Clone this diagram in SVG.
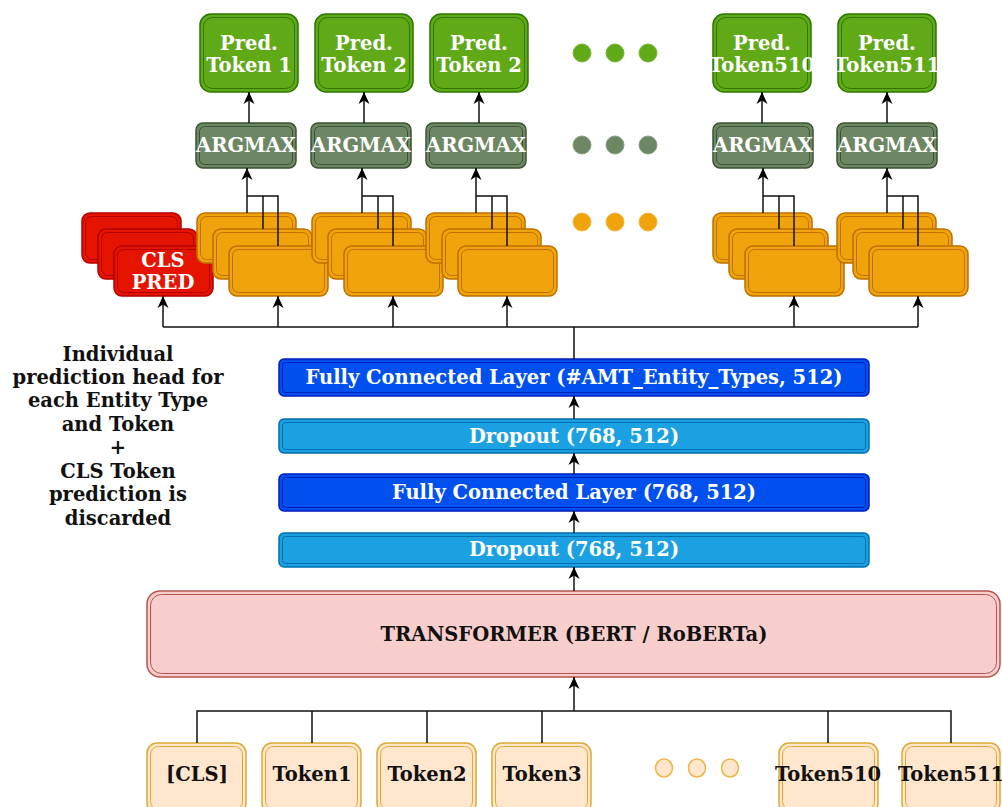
<svg xmlns="http://www.w3.org/2000/svg" width="1002" height="807" viewBox="0 0 1002 807">
<defs>
<marker id="arr" markerUnits="userSpaceOnUse" markerWidth="14" markerHeight="12" refX="12" refY="6" orient="auto">
<path d="M0,0.5 L12,6 L0,11.5 L3.5,6 Z" fill="#000"/>
</marker>
<style>
text{font-family:'DejaVu Serif','Liberation Serif',serif;font-weight:bold;font-size:19.5px;text-anchor:middle}
.w{fill:#fff}
.k{fill:#111}
.pred{fill:#60a917;stroke:#2d7600;stroke-width:1.5}
.predi{fill:none;stroke:#2d7600;stroke-width:1}
.arg{fill:#6d8764;stroke:#3a5431;stroke-width:1.5}
.argi{fill:none;stroke:#3a5431;stroke-width:1}
.or{fill:#f0a30a;stroke:#bd7000;stroke-width:1.5}
.ori{fill:none;stroke:#bd7000;stroke-width:1}
.red{fill:#e51400;stroke:#b20000;stroke-width:1.5}
.redi{fill:none;stroke:#b20000;stroke-width:1}
.fc{fill:#0050ef;stroke:#001dbc;stroke-width:1.5}
.fci{fill:none;stroke:#001dbc;stroke-width:1}
.dr{fill:#1ba1e2;stroke:#006eaf;stroke-width:1.5}
.dri{fill:none;stroke:#006eaf;stroke-width:1}
.tr{fill:#f8cecc;stroke:#b85450;stroke-width:1.5}
.tri{fill:none;stroke:#b85450;stroke-width:1}
.tk{fill:#ffe6cc;stroke:#dcaa33;stroke-width:1.5}
.tki{fill:none;stroke:#dcaa33;stroke-width:1}
.ln{fill:none;stroke:#111;stroke-width:1.5}
.ar{fill:none;stroke:#111;stroke-width:1.5;marker-end:url(#arr)}
</style>
</defs>

<!-- Pred tokens -->
<g id="pred1"><rect class="pred" x="200" y="14" width="98" height="78" rx="11"/><rect class="predi" x="203.5" y="17.5" width="91" height="71" rx="9"/><text class="w" x="249" y="50">Pred.</text><text class="w" x="249" y="72">Token 1</text></g>
<g id="pred2"><rect class="pred" x="315" y="14" width="98" height="78" rx="11"/><rect class="predi" x="318.5" y="17.5" width="91" height="71" rx="9"/><text class="w" x="364" y="50">Pred.</text><text class="w" x="364" y="72">Token 2</text></g>
<g id="pred3"><rect class="pred" x="430" y="14" width="98" height="78" rx="11"/><rect class="predi" x="433.5" y="17.5" width="91" height="71" rx="9"/><text class="w" x="479" y="50">Pred.</text><text class="w" x="479" y="72">Token 2</text></g>
<g id="pred510"><rect class="pred" x="713" y="14" width="98" height="78" rx="11"/><rect class="predi" x="716.5" y="17.5" width="91" height="71" rx="9"/><text class="w" x="762" y="50">Pred.</text><text class="w" x="762" y="72">Token510</text></g>
<g id="pred511"><rect class="pred" x="838" y="14" width="98" height="78" rx="11"/><rect class="predi" x="841.5" y="17.5" width="91" height="71" rx="9"/><text class="w" x="887" y="50">Pred.</text><text class="w" x="887" y="72">Token511</text></g>
<g id="dots-green"><circle cx="582" cy="53" r="9" fill="#60a917" stroke="#74b83a"/><circle cx="615" cy="53" r="9" fill="#60a917" stroke="#74b83a"/><circle cx="648" cy="53" r="9" fill="#60a917" stroke="#74b83a"/></g>

<!-- ARGMAX -->
<g id="arg1"><rect class="arg" x="196" y="123" width="100" height="45" rx="7"/><rect class="argi" x="199.5" y="126.5" width="93" height="38" rx="5"/><text class="w" x="246" y="152">ARGMAX</text></g>
<g id="arg2"><rect class="arg" x="311" y="123" width="100" height="45" rx="7"/><rect class="argi" x="314.5" y="126.5" width="93" height="38" rx="5"/><text class="w" x="361" y="152">ARGMAX</text></g>
<g id="arg3"><rect class="arg" x="426" y="123" width="100" height="45" rx="7"/><rect class="argi" x="429.5" y="126.5" width="93" height="38" rx="5"/><text class="w" x="476" y="152">ARGMAX</text></g>
<g id="arg510"><rect class="arg" x="713" y="123" width="100" height="45" rx="7"/><rect class="argi" x="716.5" y="126.5" width="93" height="38" rx="5"/><text class="w" x="763" y="152">ARGMAX</text></g>
<g id="arg511"><rect class="arg" x="837" y="123" width="100" height="45" rx="7"/><rect class="argi" x="840.5" y="126.5" width="93" height="38" rx="5"/><text class="w" x="887" y="152">ARGMAX</text></g>
<g id="dots-gray"><circle cx="582" cy="145" r="9" fill="#6d8764" stroke="#889e80"/><circle cx="615" cy="145" r="9" fill="#6d8764" stroke="#889e80"/><circle cx="648" cy="145" r="9" fill="#6d8764" stroke="#889e80"/></g>

<!-- CLS PRED stack -->
<g id="clspred">
<rect class="red" x="82" y="213" width="99" height="50" rx="8"/><rect class="redi" x="85.5" y="216.5" width="92" height="43" rx="6"/>
<rect class="red" x="98" y="229" width="99" height="50" rx="8"/><rect class="redi" x="101.5" y="232.5" width="92" height="43" rx="6"/>
<rect class="red" x="114" y="246" width="99" height="50" rx="8"/><rect class="redi" x="117.5" y="249.5" width="92" height="43" rx="6"/>
<text class="w" x="163" y="267">CLS</text><text class="w" x="163" y="289">PRED</text>
</g>

<!-- Orange heads -->
<g id="head1">
<rect class="or" x="197" y="213" width="99" height="50" rx="8"/><rect class="ori" x="200.5" y="216.5" width="92" height="43" rx="6"/>
<rect class="or" x="213" y="229" width="99" height="50" rx="8"/><rect class="ori" x="216.5" y="232.5" width="92" height="43" rx="6"/>
<rect class="or" x="229" y="246" width="99" height="50" rx="8"/><rect class="ori" x="232.5" y="249.5" width="92" height="43" rx="6"/>
</g>
<g id="head2">
<rect class="or" x="312" y="213" width="99" height="50" rx="8"/><rect class="ori" x="315.5" y="216.5" width="92" height="43" rx="6"/>
<rect class="or" x="328" y="229" width="99" height="50" rx="8"/><rect class="ori" x="331.5" y="232.5" width="92" height="43" rx="6"/>
<rect class="or" x="344" y="246" width="99" height="50" rx="8"/><rect class="ori" x="347.5" y="249.5" width="92" height="43" rx="6"/>
</g>
<g id="head3">
<rect class="or" x="426" y="213" width="99" height="50" rx="8"/><rect class="ori" x="429.5" y="216.5" width="92" height="43" rx="6"/>
<rect class="or" x="442" y="229" width="99" height="50" rx="8"/><rect class="ori" x="445.5" y="232.5" width="92" height="43" rx="6"/>
<rect class="or" x="458" y="246" width="99" height="50" rx="8"/><rect class="ori" x="461.5" y="249.5" width="92" height="43" rx="6"/>
</g>
<g id="head510">
<rect class="or" x="713" y="213" width="99" height="50" rx="8"/><rect class="ori" x="716.5" y="216.5" width="92" height="43" rx="6"/>
<rect class="or" x="729" y="229" width="99" height="50" rx="8"/><rect class="ori" x="732.5" y="232.5" width="92" height="43" rx="6"/>
<rect class="or" x="745" y="246" width="99" height="50" rx="8"/><rect class="ori" x="748.5" y="249.5" width="92" height="43" rx="6"/>
</g>
<g id="head511">
<rect class="or" x="837" y="213" width="99" height="50" rx="8"/><rect class="ori" x="840.5" y="216.5" width="92" height="43" rx="6"/>
<rect class="or" x="853" y="229" width="99" height="50" rx="8"/><rect class="ori" x="856.5" y="232.5" width="92" height="43" rx="6"/>
<rect class="or" x="869" y="246" width="99" height="50" rx="8"/><rect class="ori" x="872.5" y="249.5" width="92" height="43" rx="6"/>
</g>
<g id="dots-orange"><circle cx="582" cy="222" r="9" fill="#f0a30a" stroke="#f2b540"/><circle cx="615" cy="222" r="9" fill="#f0a30a" stroke="#f2b540"/><circle cx="648" cy="222" r="9" fill="#f0a30a" stroke="#f2b540"/></g>

<!-- Layers -->
<g id="fc2"><rect class="fc" x="279" y="359" width="590" height="37" rx="5"/><rect class="fci" x="282.5" y="362.5" width="583" height="30" rx="3"/><text class="w" x="574" y="384">Fully Connected Layer (#AMT_Entity_Types, 512)</text></g>
<g id="drop2"><rect class="dr" x="279" y="419" width="590" height="34" rx="5"/><rect class="dri" x="282.5" y="422.5" width="583" height="27" rx="3"/><text class="w" x="574" y="443">Dropout (768, 512)</text></g>
<g id="fc1"><rect class="fc" x="279" y="474" width="590" height="37" rx="5"/><rect class="fci" x="282.5" y="477.5" width="583" height="30" rx="3"/><text class="w" x="574" y="499">Fully Connected Layer (768, 512)</text></g>
<g id="drop1"><rect class="dr" x="279" y="533" width="590" height="34" rx="5"/><rect class="dri" x="282.5" y="536.5" width="583" height="27" rx="3"/><text class="w" x="574" y="556">Dropout (768, 512)</text></g>

<g id="transformer"><rect class="tr" x="147" y="591" width="853" height="86" rx="13"/><rect class="tri" x="150.5" y="594.5" width="846" height="79" rx="11"/><text class="k" x="574" y="641">TRANSFORMER (BERT / RoBERTa)</text></g>

<!-- Input tokens -->
<g id="tcls"><rect class="tk" x="147" y="743" width="99" height="70" rx="10"/><rect class="tki" x="150.5" y="746.5" width="92" height="63" rx="8"/><text class="k" x="197" y="781">[CLS]</text></g>
<g id="t1"><rect class="tk" x="262" y="743" width="99" height="70" rx="10"/><rect class="tki" x="265.5" y="746.5" width="92" height="63" rx="8"/><text class="k" x="312" y="781">Token1</text></g>
<g id="t2"><rect class="tk" x="377" y="743" width="99" height="70" rx="10"/><rect class="tki" x="380.5" y="746.5" width="92" height="63" rx="8"/><text class="k" x="427" y="781">Token2</text></g>
<g id="t3"><rect class="tk" x="492" y="743" width="99" height="70" rx="10"/><rect class="tki" x="495.5" y="746.5" width="92" height="63" rx="8"/><text class="k" x="542" y="781">Token3</text></g>
<g id="t510"><rect class="tk" x="779" y="743" width="99" height="70" rx="10"/><rect class="tki" x="782.5" y="746.5" width="92" height="63" rx="8"/><text class="k" x="828" y="781">Token510</text></g>
<g id="t511"><rect class="tk" x="902" y="743" width="98" height="70" rx="10"/><rect class="tki" x="905.5" y="746.5" width="91" height="63" rx="8"/><text class="k" x="951" y="781">Token511</text></g>
<g id="dots-input"><ellipse cx="664" cy="768" rx="8.5" ry="9" fill="#ffe6cc" stroke="#e6b84a" stroke-width="1.5"/><ellipse cx="697" cy="768" rx="8.5" ry="9" fill="#ffe6cc" stroke="#e6b84a" stroke-width="1.5"/><ellipse cx="730" cy="768" rx="8.5" ry="9" fill="#ffe6cc" stroke="#e6b84a" stroke-width="1.5"/></g>

<g id="note">
<text class="k" x="118" y="361">Individual</text>
<text class="k" x="118" y="384">prediction head for</text>
<text class="k" x="118" y="407">each Entity Type</text>
<text class="k" x="118" y="431">and Token</text>
<text class="k" x="118" y="454">+</text>
<text class="k" x="118" y="478">CLS Token</text>
<text class="k" x="118" y="501">prediction is</text>
<text class="k" x="118" y="525">discarded</text>
</g>

<!-- Connectors -->
<g id="connectors">
<path class="ar" d="M249,123 V92"/>
<path class="ar" d="M364,123 V92"/>
<path class="ar" d="M479,123 V92"/>
<path class="ar" d="M762,123 V92"/>
<path class="ar" d="M887,123 V92"/>

<path class="ar" d="M247,213 V168"/><path class="ln" d="M247,196 H278 V246 M263,196 V229"/>
<path class="ar" d="M362,213 V168"/><path class="ln" d="M362,196 H393 V246 M378,196 V229"/>
<path class="ar" d="M476,213 V168"/><path class="ln" d="M476,196 H507 V246 M492,196 V229"/>
<path class="ar" d="M763,213 V168"/><path class="ln" d="M763,196 H794 V246 M779,196 V229"/>
<path class="ar" d="M887,213 V168"/><path class="ln" d="M887,196 H918 V246 M903,196 V229"/>

<path class="ln" d="M163,327 H918 M574,327 V359"/>
<path class="ar" d="M163,327 V296"/>
<path class="ar" d="M278,327 V296"/>
<path class="ar" d="M393,327 V296"/>
<path class="ar" d="M507,327 V296"/>
<path class="ar" d="M794,327 V296"/>
<path class="ar" d="M918,327 V296"/>

<path class="ar" d="M574,419 V396"/>
<path class="ar" d="M574,474 V453"/>
<path class="ar" d="M574,533 V511"/>
<path class="ar" d="M574,591 V567"/>

<path class="ln" d="M197,743 V711 H951 V743 M312,711 V743 M427,711 V743 M542,711 V743 M828,711 V743"/>
<path class="ar" d="M574,711 V677"/>
</g>
</svg>
